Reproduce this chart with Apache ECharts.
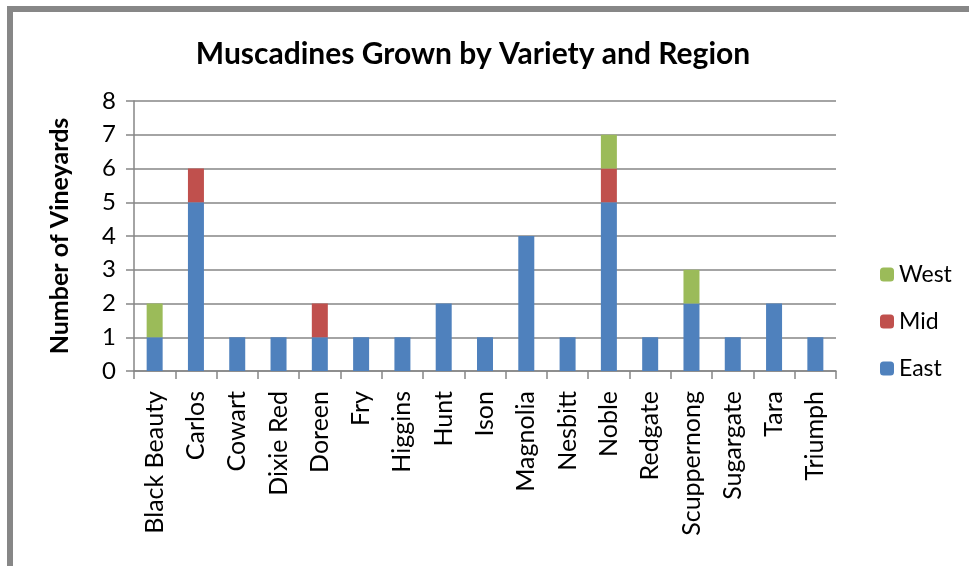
<!DOCTYPE html>
<html>
<head>
    <meta charset="utf-8">
    <title>Muscadines</title>
    <script src="https://cdn.jsdelivr.net/npm/echarts@6/dist/echarts.min.js"></script>
    <style>
        html, body { margin: 0; padding: 0; background: #fff; }
        #frame {
            position: absolute; left: 7px; top: 6px; width: 980px; height: 556px;
            border-left: 6px solid #878787; border-top: 6px solid #878787; border-bottom: 2px solid #878787;
        }
        #main { position: absolute; left: 0; top: 0; width: 969px; height: 566px; }
    </style>
</head>
<body>
<div id="frame"></div>
<div id="main"></div>
<script>
    // 品种
    var varieties = ['Black Beauty', 'Carlos', 'Cowart', 'Dixie Red', 'Doreen', 'Fry', 'Higgins', 'Hunt', 'Ison',
        'Magnolia', 'Nesbitt', 'Noble', 'Redgate', 'Scuppernong', 'Sugargate', 'Tara', 'Triumph'];
    var east = [1, 5, 1, 1, 1, 1, 1, 2, 1, 4, 1, 5, 1, 2, 1, 2, 1];
    var mid  = [0, 1, 0, 0, 1, 0, 0, 0, 0, 0, 0, 1, 0, 0, 0, 0, 0];
    var west = [1, 0, 0, 0, 0, 0, 0, 0, 0, 0, 0, 1, 0, 1, 0, 0, 0];
    var yTicks = [0, 1, 2, 3, 4, 5, 6, 7, 8];

    var font = 'Lato, "Open Sans", sans-serif';
    var gray = '#868686';

    var myChart = echarts.init(document.getElementById('main'), null, { renderer: 'canvas' });
    var option = {
        backgroundColor: 'transparent',
        animation: false,
        title: {
            text: 'Muscadines Grown by Variety and Region',
            left: 468, top: 34, textAlign: 'center',
            textStyle: { fontFamily: font, fontSize: 30, fontWeight: 'bold', color: '#000' }
        },
        legend: {
            orient: 'vertical',
            left: 875, top: 258,
            itemWidth: 14, itemHeight: 14, itemGap: 24,
            data: ['West', 'Mid', 'East'],
            textStyle: { fontFamily: font, fontSize: 23, color: '#000' }
        },
        grid: { left: 134, right: 133, top: 101, bottom: 195 },
        xAxis: {
            type: 'category',
            data: varieties,
            axisLine: { lineStyle: { color: gray, width: 1.5 } },
            axisTick: { show: true, length: 8, interval: 0, lineStyle: { color: gray, width: 1.5 } },
            axisLabel: { interval: 0, rotate: 90, margin: 20, fontFamily: font, fontSize: 25, color: '#000' }
        },
        yAxis: {
            type: 'value',
            min: yTicks[0], max: yTicks[yTicks.length - 1], interval: 1,
            name: 'Number of Vineyards',
            nameLocation: 'middle', nameGap: 62,
            nameTextStyle: { fontFamily: font, fontSize: 25, fontWeight: 'bold', color: '#000' },
            axisLine: { show: true, lineStyle: { color: gray, width: 1.5 } },
            axisTick: { show: true, length: 8, lineStyle: { color: gray, width: 1.5 } },
            splitLine: { lineStyle: { color: gray, width: 1.5 } },
            axisLabel: { margin: 18, fontFamily: font, fontSize: 24, color: '#000' }
        },
        series: [
            { name: 'East', type: 'bar', stack: 'v', data: east, barWidth: 16, itemStyle: { color: '#4F81BD' } },
            { name: 'Mid', type: 'bar', stack: 'v', data: mid, barWidth: 16, itemStyle: { color: '#C0504D' } },
            { name: 'West', type: 'bar', stack: 'v', data: west, barWidth: 16, itemStyle: { color: '#9BBB59' } }
        ]
    };
    myChart.setOption(option);
</script>
</body>
</html>
